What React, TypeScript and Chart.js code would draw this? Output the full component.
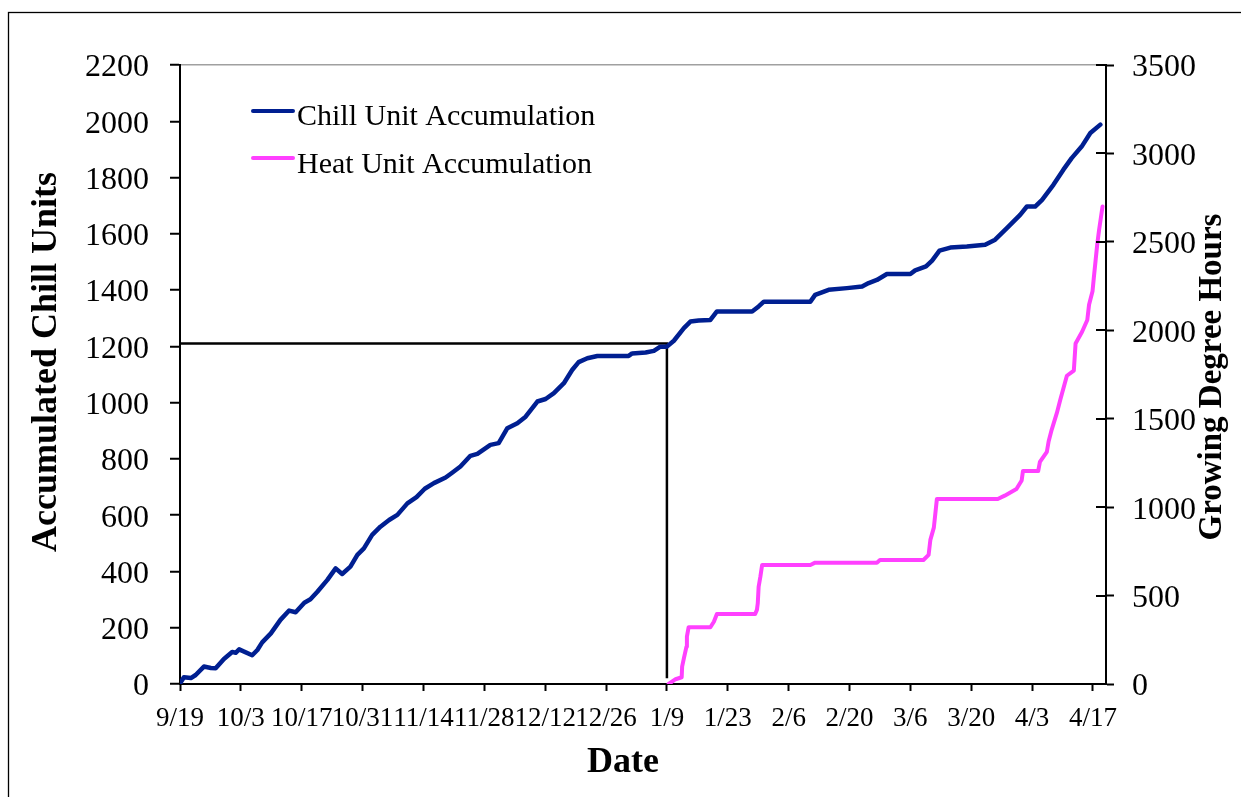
import { useEffect, useRef } from 'react';
import { Chart, registerables } from 'chart.js';

Chart.register(...registerables);

// Days counted from 9/19
const tickDays = [0, 14, 28, 42, 56, 70, 84, 98, 112, 126, 140, 154, 168, 182, 196, 210];
const tickLabels = ['9/19', '10/3', '10/17', '10/31', '11/14', '11/28', '12/12', '12/26', '1/9', '1/23', '2/6', '2/20', '3/6', '3/20', '4/3', '4/17'];

const chillDays = [0, 0.9, 2.5, 3.6, 5.5, 7.1, 8.2, 10.1, 12.0, 12.8, 13.6, 16.6, 17.8, 18.9, 20.9, 23.1, 25.1, 26.6, 28.6, 30.0, 31.6, 33.9, 35.8, 37.3, 39.2, 40.8, 42.3, 44.2, 46.1, 48.1, 50.0, 52.3, 54.4, 56.3, 58.4, 61.1, 62.6, 64.5, 66.8, 68.4, 71.4, 73.3, 75.3, 77.6, 79.5, 82.2, 84.1, 86.0, 88.3, 90.2, 91.7, 93.7, 96, 103.2, 104, 107.1, 109, 110.5, 112, 113.6, 115.9, 117.4, 119.3, 122, 123.5, 131.6, 133.1, 134.3, 145, 146.1, 149.2, 153.4, 156.9, 158.4, 160.3, 162.6, 168, 169.1, 171.6, 173, 174.7, 177.2, 181, 185.2, 187.5, 190.2, 193.3, 194.8, 196.7, 198.3, 200.9, 203.2, 205.1, 207.4, 209.4, 211.7];
const chillUnits = [2, 24, 21, 32, 62, 57, 56, 89, 114, 111, 123, 102, 121, 148, 180, 228, 261, 255, 289, 301, 328, 370, 411, 391, 417, 459, 482, 530, 559, 583, 601, 642, 664, 694, 714, 734, 751, 773, 811, 818, 850, 856, 909, 927, 950, 1004, 1013, 1034, 1069, 1116, 1144, 1158, 1166, 1166, 1175, 1178, 1184, 1199, 1199, 1220, 1265, 1288, 1292, 1294, 1324, 1324, 1342, 1359, 1359, 1383, 1401, 1407, 1413, 1425, 1436, 1457, 1457, 1470, 1484, 1505, 1540, 1551, 1555, 1561, 1579, 1620, 1668, 1697, 1697, 1721, 1774, 1828, 1869, 1910, 1958, 1988];

const heatDays = [112.4, 114, 115.4, 115.5, 115.9, 116.5, 116.6, 117, 122, 122.8, 123.5, 132.3, 132.7, 132.9, 133.1, 133.5, 133.9, 145, 146.1, 160.3, 161, 171, 172.2, 172.6, 173.4, 174.1, 188.1, 189.7, 192.4, 193.6, 193.9, 197.4, 197.8, 199.4, 199.8, 200.5, 201.7, 202.5, 204, 205.6, 206, 207.5, 208.7, 209.1, 209.9, 210.2, 210.6, 211, 211.4, 212.2];
const heatHours = [0, 27, 38, 98, 145, 211, 268, 321, 321, 352, 396, 396, 419, 456, 550, 607, 673, 673, 686, 686, 701, 701, 730, 815, 884, 1046, 1046, 1065, 1103, 1151, 1204, 1204, 1256, 1313, 1371, 1437, 1533, 1609, 1743, 1772, 1925, 1992, 2058, 2144, 2221, 2297, 2393, 2489, 2565, 2700];

const refDays = [0, 112, 112];
const refUnits = [1210, 1210, 20];

const seriesLabels = ['Chill Unit Accumulation', 'Heat Unit Accumulation'];
const axisTitles = { left: 'Accumulated Chill Units', right: 'Growing Degree Hours', bottom: 'Date' };

const SERIF = "'Liberation Serif', 'Times New Roman', serif";
const CHILL_COLOR = '#001f91';
const HEAT_COLOR = '#ff40ff';

const decorPlugin = {
  id: 'decor',
  beforeDraw(chart: any) {
    const ctx = chart.ctx;
    ctx.save();
    ctx.strokeStyle = '#000';
    ctx.lineWidth = 1.3;
    ctx.strokeRect(8.5, 12.5, 1400, 1000);
    ctx.restore();
  },
  afterDraw(chart: any) {
    const { ctx, chartArea, scales } = chart;
    ctx.save();
    // inner halves of the crossing ticks on the right axis
    const y1 = scales.y1;
    ctx.strokeStyle = '#000';
    ctx.lineWidth = 2;
    y1.ticks.forEach((t: any) => {
      const py = Math.round(y1.getPixelForValue(t.value));
      ctx.beginPath();
      ctx.moveTo(chartArea.right - 10, py);
      ctx.lineTo(chartArea.right, py);
      ctx.stroke();
    });

    // legend
    const legendRows = [
      { y: 111, base: 125 },
      { y: 158, base: 172.5 },
    ];
    ctx.font = `30px ${SERIF}`;
    ctx.textAlign = 'left';
    ctx.textBaseline = 'alphabetic';
    legendRows.forEach((row, i) => {
      const ds = chart.data.datasets[i];
      ctx.strokeStyle = ds.borderColor;
      ctx.lineWidth = 4;
      ctx.lineCap = 'round';
      ctx.beginPath();
      ctx.moveTo(253, row.y);
      ctx.lineTo(293, row.y);
      ctx.stroke();
      ctx.fillStyle = '#000';
      ctx.fillText(ds.label, 297, row.base);
    });

    // axis titles
    ctx.fillStyle = '#000';
    ctx.textAlign = 'center';
    ctx.textBaseline = 'alphabetic';
    ctx.font = `bold 36px ${SERIF}`;
    ctx.fillText(axisTitles.bottom, 623, 772);

    ctx.save();
    ctx.translate(56, 362);
    ctx.rotate(-Math.PI / 2);
    ctx.fillText(axisTitles.left, 0, 0);
    ctx.restore();

    ctx.font = `bold 33px ${SERIF}`;
    ctx.save();
    ctx.translate(1221, 377);
    ctx.rotate(-Math.PI / 2);
    ctx.fillText(axisTitles.right, 0, 0);
    ctx.restore();

    ctx.restore();
  },
};

export default function App() {
  const canvasRef = useRef<HTMLCanvasElement | null>(null);

  useEffect(() => {
    if (!canvasRef.current) return;
    const chart = new Chart(canvasRef.current, {
      type: 'line',
      data: {
        datasets: [
          {
            label: seriesLabels[0],
            data: chillDays.map((d, i) => ({ x: d, y: chillUnits[i] })),
            borderColor: CHILL_COLOR,
            backgroundColor: CHILL_COLOR,
            borderWidth: 4.5,
            pointRadius: 0,
            tension: 0,
            borderJoinStyle: 'round',
            borderCapStyle: 'round',
            yAxisID: 'y',
          },
          {
            label: seriesLabels[1],
            data: heatDays.map((d, i) => ({ x: d, y: heatHours[i] })),
            borderColor: HEAT_COLOR,
            backgroundColor: HEAT_COLOR,
            borderWidth: 4,
            pointRadius: 0,
            tension: 0,
            borderJoinStyle: 'round',
            borderCapStyle: 'round',
            yAxisID: 'y1',
          },
          {
            label: 'reference',
            data: refDays.map((d, i) => ({ x: d, y: refUnits[i] })),
            borderColor: '#000',
            backgroundColor: '#000',
            borderWidth: 2.5,
            pointRadius: 0,
            tension: 0,
            yAxisID: 'y',
          },
        ],
      },
      options: {
        animation: false,
        responsive: false,
        devicePixelRatio: 1,
        events: [],
        layout: { padding: { top: 65, left: 0, right: 0, bottom: 0 } },
        plugins: {
          legend: { display: false },
          tooltip: { enabled: false },
          title: { display: false },
        },
        scales: {
          x: {
            type: 'linear',
            min: 0,
            max: 213,
            afterBuildTicks: (scale: any) => {
              scale.ticks = tickDays.map((v) => ({ value: v }));
            },
            afterFit: (scale: any) => {
              scale.height = 113;
            },
            ticks: {
              autoSkip: false,
              maxRotation: 0,
              minRotation: 0,
              padding: 12,
              color: '#000',
              font: { family: SERIF, size: 27 },
              callback: (_v: any, i: number) => tickLabels[i],
            },
            grid: {
              drawOnChartArea: false,
              tickLength: 7,
              tickWidth: 2,
              tickColor: '#000',
            },
            border: { color: '#000', width: 2 },
          },
          y: {
            type: 'linear',
            position: 'left',
            min: 0,
            max: 2200,
            afterFit: (scale: any) => {
              scale.width = 180;
            },
            ticks: {
              stepSize: 200,
              padding: 21,
              labelOffset: 3,
              color: '#000',
              font: { family: SERIF, size: 32 },
              callback: (v: any) => String(v),
            },
            grid: {
              drawOnChartArea: true,
              color: (c: any) => (c.tick && c.tick.value === 2200 ? '#a0a0a0' : 'rgba(0,0,0,0)'),
              lineWidth: 1.5,
              tickLength: 10,
              tickWidth: 2,
              tickColor: '#000',
            },
            border: { color: '#000', width: 2 },
          },
          y1: {
            type: 'linear',
            position: 'right',
            min: 0,
            max: 3500,
            afterFit: (scale: any) => {
              scale.width = 135;
            },
            ticks: {
              stepSize: 500,
              padding: 18,
              labelOffset: 3,
              color: '#000',
              font: { family: SERIF, size: 32 },
              callback: (v: any) => String(v),
            },
            grid: {
              drawOnChartArea: false,
              tickLength: 8,
              tickWidth: 2,
              tickColor: '#000',
            },
            border: { color: '#000', width: 2 },
          },
        },
      } as any,
      plugins: [decorPlugin],
    });
    return () => chart.destroy();
  }, []);

  return (
    <div style={{ position: 'absolute', left: 0, top: 0, width: 1241, height: 797, background: '#fff', overflow: 'hidden' }}>
      <canvas ref={canvasRef} width={1241} height={797} style={{ display: 'block', width: 1241, height: 797 }} />
    </div>
  );
}
